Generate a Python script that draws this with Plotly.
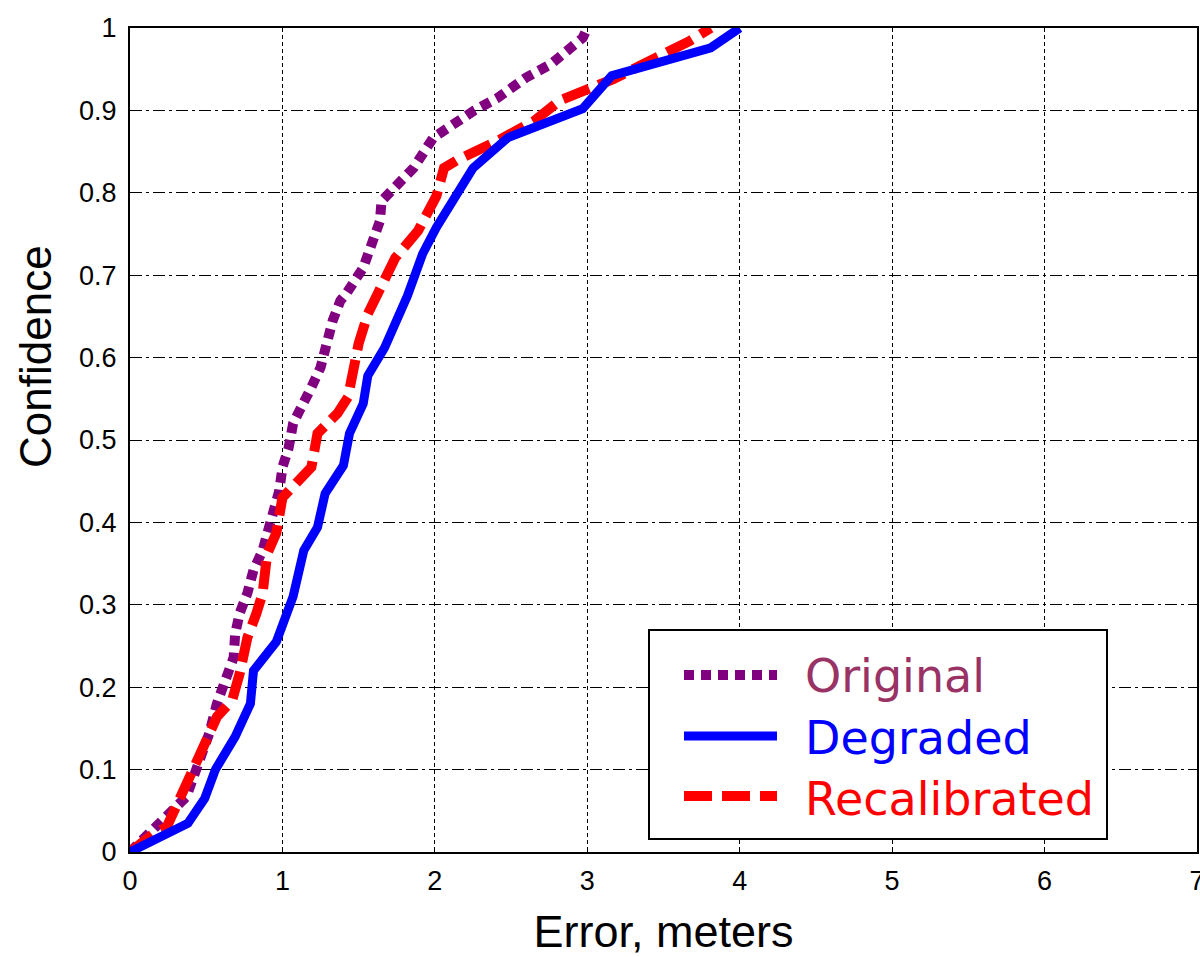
import plotly.graph_objects as go

# ---- data ----
orig_x = [0, 0.24, 0.37, 0.44, 0.52, 0.57, 0.64, 0.68, 0.69, 0.72, 0.77, 0.81, 0.87, 0.91, 0.94,
          0.98, 1.0, 1.04, 1.07, 1.13, 1.19, 1.25, 1.29, 1.33, 1.38, 1.42, 1.53, 1.60, 1.64, 1.65,
          1.73, 1.86, 1.99, 2.12, 2.26, 2.41, 2.60, 2.76, 2.87, 2.97, 3.0]
orig_y = [0, 0.043, 0.067, 0.103, 0.144, 0.18, 0.212, 0.236, 0.265, 0.29, 0.314, 0.342, 0.366, 0.39, 0.415,
          0.439, 0.467, 0.49, 0.52, 0.539, 0.564, 0.588, 0.617, 0.645, 0.669, 0.678, 0.709, 0.742, 0.766, 0.79,
          0.805, 0.83, 0.867, 0.884, 0.9, 0.915, 0.94, 0.956, 0.972, 0.988, 1.0]

deg_x = [0, 0.38, 0.49, 0.56, 0.69, 0.79, 0.81, 0.96, 1.07, 1.14, 1.23, 1.28, 1.40, 1.44, 1.53,
         1.56, 1.67, 1.82, 1.92, 2.01, 2.25, 2.48, 2.97, 3.16, 3.81, 4.0]
deg_y = [0, 0.035, 0.065, 0.10, 0.14, 0.18, 0.22, 0.255, 0.31, 0.366, 0.394, 0.435, 0.469, 0.508, 0.544,
         0.578, 0.612, 0.675, 0.726, 0.758, 0.83, 0.867, 0.902, 0.942, 0.976, 1.0]

recal_x = [0, 0.16, 0.24, 0.37, 0.48, 0.57, 0.67, 0.72, 0.77, 0.83, 0.87, 0.90, 0.96, 1.0, 1.19,
           1.23, 1.36, 1.43, 1.46, 1.50, 1.56, 1.62, 1.74, 1.89, 2.01, 2.06, 2.14, 2.41, 2.65, 2.82,
           3.17, 3.67, 3.81]
recal_y = [0, 0.023, 0.03, 0.08, 0.127, 0.164, 0.184, 0.217, 0.26, 0.29, 0.314, 0.362, 0.387, 0.43, 0.467,
           0.508, 0.532, 0.552, 0.588, 0.617, 0.653, 0.678, 0.721, 0.754, 0.796, 0.83, 0.839, 0.863, 0.887, 0.912,
           0.938, 0.984, 1.0]

x_ticks = [0, 1, 2, 3, 4, 5, 6, 7]
y_ticks = [0, 0.1, 0.2, 0.3, 0.4, 0.5, 0.6, 0.7, 0.8, 0.9, 1.0]
y_ticktext = ["0", "0.1", "0.2", "0.3", "0.4", "0.5", "0.6", "0.7", "0.8", "0.9", "1"]

series_names = ["Original", "Degraded", "Recalibrated"]
series_colors = ["#800080", "#0000ff", "#ff0000"]
label_colors = ["#993366", "#0000ff", "#ff0000"]
series_dash = ["10px,7px", "solid", "28px,10px"]
series_width = [10, 9, 10]

x_title = "Error, meters"
y_title = "Confidence"

# ---- figure ----
fig = go.Figure()
fig.add_trace(go.Scatter(x=orig_x, y=orig_y, mode="lines", name=series_names[0],
                         line=dict(color=series_colors[0], width=series_width[0], dash=series_dash[0])))
fig.add_trace(go.Scatter(x=recal_x, y=recal_y, mode="lines", name=series_names[2],
                         line=dict(color=series_colors[2], width=series_width[2], dash=series_dash[2])))
fig.add_trace(go.Scatter(x=deg_x, y=deg_y, mode="lines", name=series_names[1],
                         line=dict(color=series_colors[1], width=series_width[1], dash=series_dash[1])))

L, R, T, B = 130, 1197, 28, 852
W, H = 1200, 957


def px(p):
    return (p - L) / (R - L)


def py(p):
    return (B - p) / (B - T)


shapes = []
# legend box
shapes.append(dict(type="rect", xref="paper", yref="paper", x0=px(649), x1=px(1107), y0=py(839), y1=py(630),
                   line=dict(color="black", width=2), fillcolor="white", layer="above"))
annotations = []
sample_y = [675, 736, 796]
text_y = [676, 738, 799]
for i in range(3):
    shapes.append(dict(type="line", xref="paper", yref="paper", x0=px(684), x1=px(777),
                       y0=py(sample_y[i]), y1=py(sample_y[i]), layer="above",
                       line=dict(color=series_colors[i], width=series_width[i], dash=series_dash[i])))
    annotations.append(dict(xref="paper", yref="paper", x=px(803), y=py(text_y[i]), xanchor="left",
                            yanchor="middle", showarrow=False, text=series_names[i],
                            font=dict(family="DejaVu Sans", size=46, color=label_colors[i])))

# y-axis title (sits above the plot's centre in the reference)
annotations.append(dict(xref="paper", yref="paper", x=px(35), y=py(357), xanchor="center", yanchor="middle",
                        textangle=-90, showarrow=False, text=y_title,
                        font=dict(family="Liberation Sans, Arial", size=44, color="black")))

fig.update_layout(
    width=W, height=H,
    margin=dict(l=L, r=W - R, t=T, b=H - B),
    plot_bgcolor="white", paper_bgcolor="white",
    showlegend=False,
    shapes=shapes, annotations=annotations,
    font=dict(family="Liberation Sans, Arial", color="black"),
)
fig.update_xaxes(
    range=[0, 7], tickvals=x_ticks, ticktext=[str(v) for v in x_ticks],
    showgrid=True, gridcolor="black", gridwidth=1, griddash="4px,3px",
    showline=True, linecolor="black", linewidth=2, mirror=True,
    ticks="inside", ticklen=5, tickcolor="black", zeroline=False,
    tickfont=dict(size=27, family="Liberation Sans, Arial"),
    ticklabelstandoff=4, ticklabeloverflow="allow",
    title=dict(text=x_title, font=dict(size=45, family="Liberation Sans, Arial"), standoff=24),
    automargin=False,
)
fig.update_yaxes(
    range=[0, 1], tickvals=y_ticks, ticktext=y_ticktext,
    showgrid=True, gridcolor="black", gridwidth=1, griddash="12px,4px,3px,4px",
    showline=True, linecolor="black", linewidth=2, mirror=True,
    ticks="inside", ticklen=5, tickcolor="black", zeroline=False,
    tickfont=dict(size=27, family="Liberation Sans, Arial"),
    ticklabelstandoff=6, ticklabeloverflow="allow",
    automargin=False,
)

fig.write_html("out.html")
